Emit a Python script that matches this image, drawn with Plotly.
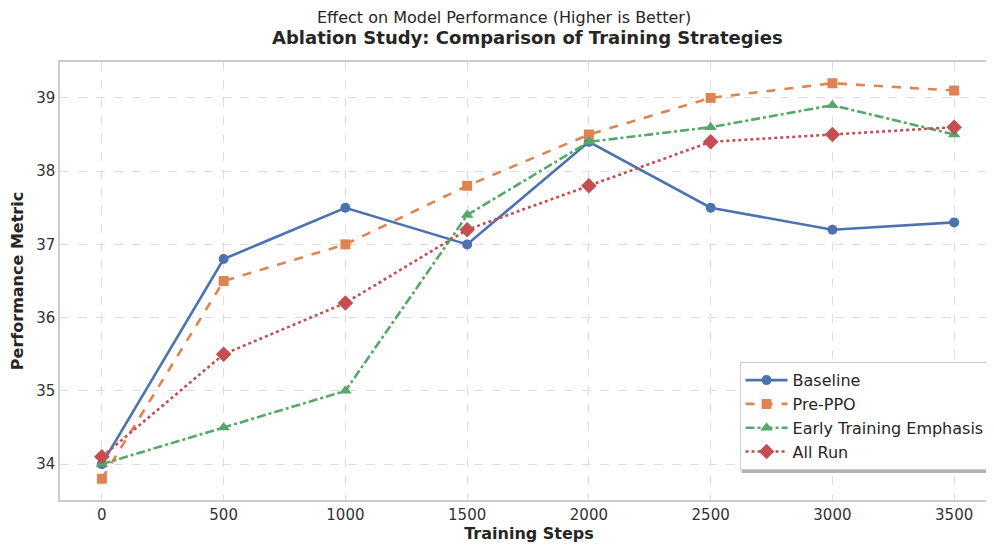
import plotly.graph_objects as go

steps = [0, 500, 1000, 1500, 2000, 2500, 3000, 3500]
baseline = [34.0, 36.8, 37.5, 37.0, 38.4, 37.5, 37.2, 37.3]
pre_ppo = [33.8, 36.5, 37.0, 37.8, 38.5, 39.0, 39.2, 39.1]
early = [34.0, 34.5, 35.0, 37.4, 38.4, 38.6, 38.9, 38.5]
all_run = [34.1, 35.5, 36.2, 37.2, 37.8, 38.4, 38.5, 38.6]

series = [
    ("Baseline", baseline, "#4c72b0", "solid", "circle", 10),
    ("Pre-PPO", pre_ppo, "#dd8452", "dash", "square", 10),
    ("Early Training Emphasis", early, "#55a868", "dashdot", "triangle-up", 11),
    ("All Run", all_run, "#c44e52", "dot", "diamond", 12),
]

fig = go.Figure()
for name, vals, color, dash, sym, size in series:
    fig.add_trace(go.Scatter(
        x=steps, y=vals, name=name, mode="lines+markers",
        line=dict(color=color, width=2.6, dash=dash),
        marker=dict(symbol=sym, size=size, color=color),
    ))

font = "DejaVu Sans"
fig.update_layout(
    width=994, height=546,
    margin=dict(l=52, r=2, t=54, b=54),
    plot_bgcolor="white", paper_bgcolor="white",
    font=dict(family=font, size=14, color="#262626"),
    showlegend=True,
    legend=dict(x=0.991, y=0.068, xanchor="right", yanchor="bottom",
                bgcolor="white", bordercolor="#cccccc", borderwidth=1,
                font=dict(size=16, color="#262626"), itemwidth=42,
                tracegroupgap=0),
)
# legend shadow
fig.add_shape(type="rect", xref="paper", yref="paper",
              x0=0.7266, x1=1.0016, y0=0.0616, y1=0.308,
              fillcolor="rgba(0,0,0,0.3)", line=dict(width=0), layer="above")
fig.add_annotation(text="Effect on Model Performance (Higher is Better)", xref="paper", yref="paper",
                   x=0.473, y=1, yshift=45, showarrow=False, xanchor="center", yanchor="middle",
                   font=dict(size=16, color="#262626"))
fig.add_annotation(text="<b>Ablation Study: Comparison of Training Strategies</b>", xref="paper", yref="paper",
                   x=0.498, y=1, yshift=25, showarrow=False, xanchor="center", yanchor="middle",
                   font=dict(size=18, color="#262626"))
fig.update_xaxes(
    range=[-172, 3680], tickvals=steps, ticktext=[str(s) for s in steps],
    showgrid=True, gridcolor="#dddddd", griddash="dash", gridwidth=1,
    showline=True, linecolor="#cccccc", linewidth=1.5, mirror=True,
    zeroline=False, ticks="", tickfont=dict(size=15, color="#333333"),
    title=dict(text="<b>Training Steps</b>", font=dict(size=16), standoff=4),
)
fig.update_yaxes(
    range=[33.51, 39.49], tickvals=[34, 35, 36, 37, 38, 39],
    showgrid=True, gridcolor="#dddddd", griddash="dash", gridwidth=1,
    showline=True, linecolor="#cccccc", linewidth=1.5, mirror=True,
    zeroline=False, ticks="", tickfont=dict(size=15, color="#333333"),
    title=dict(text="<b>Performance Metric</b>", font=dict(size=16), standoff=10),
)
fig.write_html("out.html")
